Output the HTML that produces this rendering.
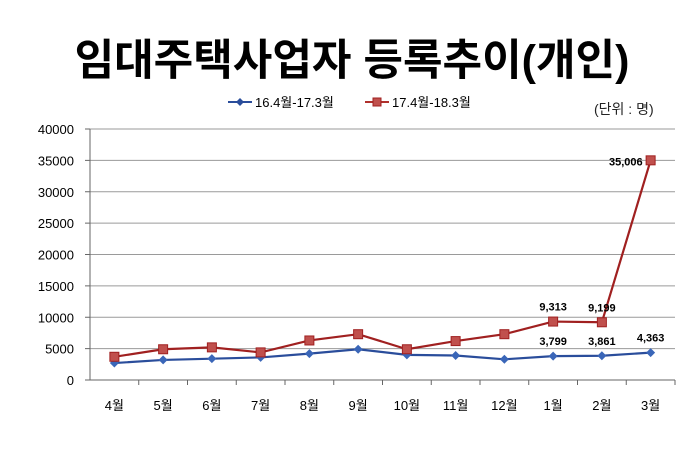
<!DOCTYPE html>
<html><head><meta charset="utf-8"><style>
body{margin:0;background:#fff;}
svg{display:block;font-family:"Liberation Sans","Noto Sans CJK KR",sans-serif;}
</style></head><body>
<svg width="700" height="451" viewBox="0 0 700 451">
<text x="352" y="75" text-anchor="middle" font-size="43" font-weight="bold" fill="#000">임대주택사업자 등록추이(개인)</text>
<g>
<line x1="228" y1="102" x2="252" y2="102" stroke="#2a4d9b" stroke-width="2"/>
<path d="M240 98 L244 102 L240 106 L236 102Z" fill="#2a4d9b"/>
<text x="255" y="107" font-size="13" fill="#000">16.4월-17.3월</text>
<line x1="365" y1="102" x2="389" y2="102" stroke="#b0302c" stroke-width="2"/>
<rect x="373" y="98" width="8" height="8" fill="#c0504d" stroke="#a02020"/>
<text x="392" y="107" font-size="13" fill="#000">17.4월-18.3월</text>
</g>
<text x="594" y="114" font-size="14" fill="#222">(단위 : 명)</text>
<g id="grid"></g><g id="axes"></g><g id="series"></g>
</svg>
<script>
const categories=["4월","5월","6월","7월","8월","9월","10월","11월","12월","1월","2월","3월"];
const series2016=[2700,3200,3400,3600,4200,4900,4000,3900,3300,3799,3861,4363];
const series2017=[3700,4900,5200,4400,6300,7300,4900,6200,7300,9313,9199,35006];
const yTicks=[0,5000,10000,15000,20000,25000,30000,35000,40000];
const labels2016={9:"3,799",10:"3,861",11:"4,363"};
const labels2017={9:"9,313",10:"9,199",11:"35,006"};
const NS="http://www.w3.org/2000/svg";
const L=90,R=675,Y0=380,Y1=129,YMAX=40000;
const step=(R-L)/categories.length;
const x=i=>L+step*(i+0.5);
const y=v=>Y0-(v/YMAX)*(Y0-Y1);
function mk(t,a,p){const e=document.createElementNS(NS,t);for(const k in a)e.setAttribute(k,a[k]);p.appendChild(e);return e;}
const grid=document.getElementById('grid'),axes=document.getElementById('axes'),ser=document.getElementById('series');
yTicks.forEach(v=>{
 if(v>0){const g=mk('line',{x1:L,x2:R,y1:y(v),y2:y(v),stroke:'#9a9a9a','stroke-width':1},grid);
 
 }
 mk('line',{x1:L-5,x2:L,y1:y(v),y2:y(v),stroke:'#666'},axes);
 const t=mk('text',{x:L-16,y:y(v)+5,'text-anchor':'end','font-size':13,fill:'#000'},axes);
 t.textContent=v;
 
 
});
mk('line',{x1:L,x2:L,y1:Y1,y2:Y0,stroke:'#666'},axes);
mk('line',{x1:L,x2:R,y1:Y0,y2:Y0,stroke:'#666'},axes);
categories.forEach((c,i)=>{
 mk('line',{x1:L+step*(i+1),x2:L+step*(i+1),y1:Y0,y2:Y0+5,stroke:'#666'},axes);
 const t=mk('text',{x:x(i),y:Y0+30,'text-anchor':'middle','font-size':13,fill:'#000'},axes);
 t.textContent=c;
 
 
});
function draw(data,color,fill,kind,name,lbls){
 const pl=mk('polyline',{points:data.map((v,i)=>x(i)+','+y(v)).join(' '),fill:'none',stroke:color,'stroke-width':2.2},ser);
 
 
 data.forEach((v,i)=>{
  let m;
  if(kind==='sq')m=mk('rect',{x:x(i)-4.5,y:y(v)-4.5,width:9,height:9,fill:fill,stroke:color},ser);
  else m=mk('path',{d:`M${x(i)} ${y(v)-4.5}L${x(i)+4.5} ${y(v)}L${x(i)} ${y(v)+4.5}L${x(i)-4.5} ${y(v)}Z`,fill:fill},ser);
  
  
  if(lbls[i]){
   const big=v>20000;
   const t=mk('text',{x:big?x(i)-8:x(i),y:big?y(v)+5:y(v)-11,'text-anchor':big?'end':'middle','font-size':11,'font-weight':'bold',fill:'#000'},ser);
   t.textContent=lbls[i];
   
   
  }
 });
}
draw(series2016,'#2a4d9b','#3a66b8','dia','series-2016',labels2016);
draw(series2017,'#a02020','#c0504d','sq','series-2017',labels2017);
</script>
</body></html>
